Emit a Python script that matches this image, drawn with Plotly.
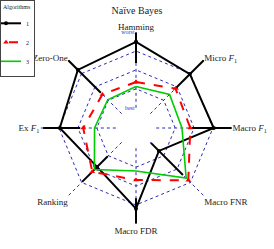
import plotly.graph_objects as go

categories = ["Hamming", "Micro <i>F</i><sub>1</sub>", "Macro <i>F</i><sub>1</sub>", "Macro FNR",
              "Macro FDR", "Ranking", "Ex <i>F</i><sub>1</sub>", "Zero-One"]
algo1 = [0.87, 0.74, 0.76, 0.16, 0.80, 0.46, 0.74, 0.82]
algo1_low = [0.59, 0.46, 0.47, 0.01, 0.66, 0.26, 0.47, 0.39]
algo1_high = [1.0, 1.0, 1.0, 0.61, 1.0, 0.74, 0.96, 1.0]
algo2 = [0.34, 0.47, 0.45, 0.71, 0.42, 0.55, 0.43, 0.36]
algo3 = [0.28, 0.36, 0.34, 0.67, 0.30, 0.51, 0.28, 0.26]
radial_ticks = [0, 0.25, 0.5, 0.75, 1.0]
radial_text = ["best", "", "", "", "worst"]

SERIF = "Liberation Serif, DejaVu Serif, serif"
GRID = "#2b2bb0"

def closed(v):
    return list(v) + [v[0]]

cats_closed = closed(categories)

fig = go.Figure()

# black range whiskers along each spoke
wr, wt = [], []
for c, lo, hi in zip(categories, algo1_low, algo1_high):
    wr += [lo, hi, None]
    wt += [c, c, None]
fig.add_trace(go.Scatterpolar(r=wr, theta=wt, mode="lines",
                              line=dict(color="black", width=2),
                              showlegend=False, hoverinfo="skip"))

fig.add_trace(go.Scatterpolar(r=closed(algo1), theta=cats_closed, mode="lines+markers",
                              name="1", line=dict(color="black", width=2),
                              marker=dict(symbol="circle", size=4, color="black")))
fig.add_trace(go.Scatterpolar(r=closed(algo2), theta=cats_closed, mode="lines+markers",
                              name="2", line=dict(color="red", width=2, dash="dash"),
                              marker=dict(symbol="triangle-up", size=5, color="red")))
fig.add_trace(go.Scatterpolar(r=closed(algo3), theta=cats_closed, mode="lines",
                              name="3", line=dict(color="#00cc00", width=1.6)))

fig.update_layout(
    width=274, height=249,
    margin=dict(l=40, r=42, t=32, b=25, autoexpand=False),
    paper_bgcolor="white",
    font=dict(family=SERIF, size=9, color="#222"),
    title=dict(text="Naïve Bayes", x=0.5, xanchor="center", xref="container",
               y=1 - 10 / 249, yref="container", yanchor="middle",
               font=dict(family=SERIF, size=10, color="#222")),
    legend=dict(xref="container", yref="container", x=0.0, y=1.0,
                xanchor="left", yanchor="top", indentation=-15,
                title=dict(text="Algorithms", font=dict(size=6, family=SERIF)),
                font=dict(size=6, family=SERIF),
                bordercolor="#444", borderwidth=1, bgcolor="white",
                tracegroupgap=0, itemwidth=30),
    polar=dict(
        bgcolor="white",
        gridshape="linear",
        hole=0.21,
        radialaxis=dict(range=[-0.002, 1.002], tickvals=radial_ticks, ticktext=radial_text,
                        angle=90, tickangle=90, side="counterclockwise",
                        showline=False, ticks="",
                        gridcolor=GRID, griddash="dot", gridwidth=1,
                        tickfont=dict(size=6, color="#3030d0", family=SERIF)),
        angularaxis=dict(direction="clockwise", rotation=90, showline=False,
                         gridcolor=GRID, griddash="dot", gridwidth=1, ticks="",
                         tickfont=dict(size=9, family=SERIF, color="#222")),
    ),
)

fig.write_html("out.html", config={"displayModeBar": False},
               post_script="document.body.style.margin='0';")
